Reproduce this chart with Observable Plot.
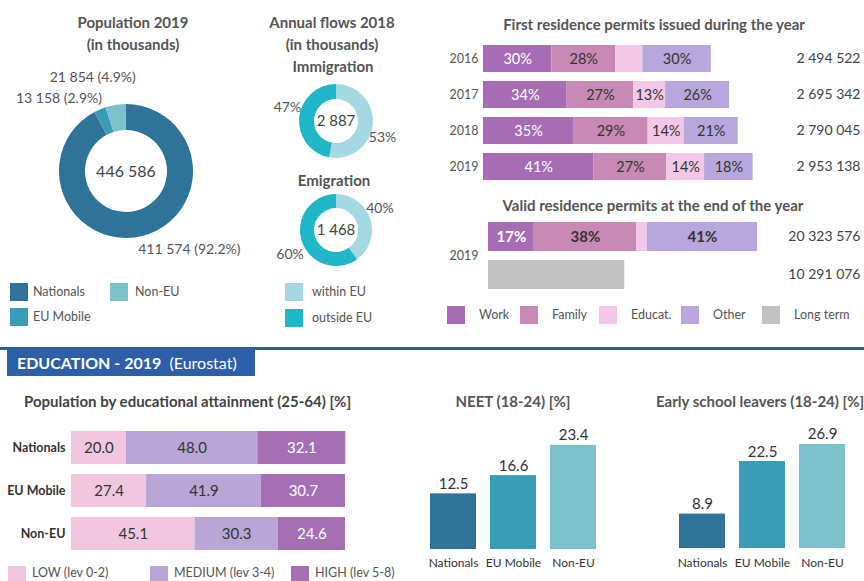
<!DOCTYPE html>
<html><head><meta charset="utf-8">
<script src="https://cdn.jsdelivr.net/npm/d3@7"></script>
<script src="https://cdn.jsdelivr.net/npm/@observablehq/plot@0.6"></script>
<style>
body{margin:0;background:#fff;font-family:Lato,"Open Sans",sans-serif;}
#root{position:relative;width:864px;height:581px;overflow:hidden;background:#fff;}
.box{position:absolute;}
.box svg{overflow:visible;}
.title{position:absolute;font-weight:bold;font-size:15px;color:#555;white-space:nowrap;line-height:20px;}
.ctr{transform:translateX(-50%);}
.lgsw{position:absolute;}
.lgtx{position:absolute;font-size:12.5px;color:#555;white-space:nowrap;line-height:16px;}
.bold-y [aria-label^="y-axis"] text{font-weight:bold;}
</style></head><body><div id="root"></div><script>
// ---------------- DATA ----------------
const popGroups = ["Nationals", "EU Mobile", "Non-EU"];
const popValues = [411574, 13158, 21854];
const popShares = [92.2, 2.9, 4.9];
const popTotal = 446586;

const flowGroups = ["within EU", "outside EU"];
const immigrationShares = [53, 47];
const immigrationTotal = 2887;
const emigrationShares = [40, 60];
const emigrationTotal = 1468;

const permitTypes = ["Work", "Family", "Educat.", "Other"];
const permitYears = ["2016", "2017", "2018", "2019"];
const permitTotals = [2494522, 2695342, 2790045, 2953138];
const permitWork = [30, 34, 35, 41];
const permitFamily = [28, 27, 29, 27];
const permitEducat = [12, 13, 14, 14];
const permitOther = [30, 26, 21, 18];
const permitEducatLabelled = [false, true, true, true];

const validYear = "2019";
const validKinds = ["Valid", "Long term"];
const validShares = [17, 38, 4, 41];
const validLabelled = [true, true, false, true];
const validTotal = 20323576;
const longTermTotal = 10291076;

const eduGroups = ["Nationals", "EU Mobile", "Non-EU"];
const eduLevels = ["LOW (lev 0-2)", "MEDIUM (lev 3-4)", "HIGH (lev 5-8)"];
const eduLow = [20.0, 27.4, 45.1];
const eduMedium = [48.0, 41.9, 30.3];
const eduHigh = [32.1, 30.7, 24.6];

const neetValues = [12.5, 16.6, 23.4];
const eslValues = [8.9, 22.5, 26.9];

// ---------------- STYLE ----------------
const popPalette = ["#2f7399", "#3a9cb7", "#7dc1cc"];
const flowPalette = ["#a4d9e4", "#1fb6c8"];
const permitPalette = ["#a66db5", "#c889b4", "#f3c8e6", "#b8a7dc", "#c2c2c2"];
const eduPalette = ["#f1c6df", "#b9a6d6", "#a66fb3"];
const FONT = "Lato, 'Open Sans', sans-serif";

const popColor = Plot.scale({color: {type: "ordinal", domain: popGroups, range: popPalette}});
const flowColor = Plot.scale({color: {type: "ordinal", domain: flowGroups, range: flowPalette}});
const permitColor = Plot.scale({color: {type: "ordinal", domain: [...permitTypes, "Long term"], range: permitPalette}});
const eduColor = Plot.scale({color: {type: "ordinal", domain: eduLevels, range: eduPalette}});

const fmt = v => d3.format(",")(v).replace(/,/g, "\u00a0");
const root = document.getElementById("root");

function place(node, left, top, cls = "box") {
  const d = document.createElement("div");
  d.className = cls;
  d.style.left = left + "px";
  d.style.top = top + "px";
  d.appendChild(node);
  root.appendChild(d);
  return d;
}
function title(text, x, y, centered = true, extra = {}) {
  const d = document.createElement("div");
  d.className = "title" + (centered ? " ctr" : "");
  d.textContent = text;
  d.style.left = x + "px";
  d.style.top = (y - 10) + "px";
  Object.assign(d.style, extra);
  root.appendChild(d);
}
function legendItem(color, text, sx, sy, tx, w = 18, h = 18, ty = null) {
  const s = document.createElement("div");
  s.className = "lgsw";
  Object.assign(s.style, {left: sx + "px", top: sy + "px", width: w + "px", height: h + "px", background: color});
  root.appendChild(s);
  const t = document.createElement("div");
  t.className = "lgtx";
  t.textContent = text;
  Object.assign(t.style, {left: tx + "px", top: ((ty ?? (sy + h / 2)) - 8) + "px"});
  root.appendChild(t);
}

// ---------------- DONUTS ----------------
function donutPlot({names, shares, color, total, width, height, cx, cy, outer, inner, labelOf, centerSize}) {
  const slices = names.map((name, i) => ({name, share: shares[i], label: labelOf(i)}));
  const render = () => {
    const g = d3.create("svg:g");
    const arcs = d3.pie().sort(null).value(d => d.share)(slices);
    const arc = d3.arc().innerRadius(inner).outerRadius(outer);
    g.append("g").attr("transform", `translate(${cx},${cy})`)
      .selectAll("path").data(arcs).join("path")
      .attr("d", arc).attr("fill", d => color.apply(d.data.name));
    g.append("text").attr("x", cx).attr("y", cy).attr("text-anchor", "middle")
      .attr("dy", "0.36em").attr("font-size", centerSize).attr("fill", "#444").text(fmt(total));
    const placed = [];
    for (const a of arcs) {
      const m = (a.startAngle + a.endAngle) / 2;
      let px = cx + outer * Math.sin(m);
      const py = cy - outer * Math.cos(m);
      const right = Math.sin(m) >= 0, upper = Math.cos(m) > 0;
      let y = upper ? py - 6 : py + 18;
      const side = right ? "r" : "l";
      let shifted = false;
      while (placed.some(p => p.side === side && Math.abs(p.y - y) < 15)) { y += upper ? -17 : 17; shifted = true; }
      if (shifted && !right) px += 18;
      placed.push({side, y});
      g.append("text").attr("x", right ? px - 4 : px + 2).attr("y", y)
        .attr("text-anchor", right ? "start" : "end").attr("font-size", 14).attr("fill", "#555")
        .text(a.data.label);
    }
    return g.node();
  };
  return Plot.plot({
    width, height, margin: 0, x: {axis: null}, y: {axis: null},
    style: {fontFamily: FONT, background: "transparent", overflow: "visible"},
    marks: [render]
  });
}

place(donutPlot({
  names: popGroups, shares: popShares, color: popColor, total: popTotal,
  width: 260, height: 222, cx: 126, cy: 111, outer: 67, inner: 41, centerSize: 16,
  labelOf: i => `${fmt(popValues[i])} (${popShares[i].toFixed(1)}%)`
}), 0, 60);

place(donutPlot({
  names: flowGroups, shares: immigrationShares, color: flowColor, total: immigrationTotal,
  width: 180, height: 100, cx: 76, cy: 51, outer: 37, inner: 22, centerSize: 15,
  labelOf: i => immigrationShares[i] + "%"
}), 260, 70);

place(donutPlot({
  names: flowGroups, shares: emigrationShares, color: flowColor, total: emigrationTotal,
  width: 180, height: 100, cx: 76, cy: 50, outer: 36, inner: 22, centerSize: 15,
  labelOf: i => emigrationShares[i] + "%"
}), 260, 180);

title("Population 2019", 133, 22);
title("(in thousands)", 133, 44);
title("Annual flows 2018", 332, 22);
title("(in thousands)", 332, 44);
title("Immigration", 333, 66);
title("Emigration", 334, 180);

legendItem(popColor.apply("Nationals"), "Nationals", 10, 283, 33);
legendItem(popColor.apply("Non-EU"), "Non-EU", 110, 283, 135);
legendItem(popColor.apply("EU Mobile"), "EU Mobile", 10, 308, 33);
legendItem(flowColor.apply("within EU"), "within EU", 285, 283, 312);
legendItem(flowColor.apply("outside EU"), "outside EU", 285, 309, 312);

// ---------------- FIRST PERMITS ----------------
const permitRows = permitYears.flatMap((year, i) => {
  const shares = [permitWork[i], permitFamily[i], permitEducat[i], permitOther[i]];
  const sum = d3.sum(shares);
  return permitTypes.map((type, j) => ({
    year, type, share: shares[j], value: permitTotals[i] * shares[j] / sum,
    labelled: type !== "Educat." || permitEducatLabelled[i]
  }));
});
const k1 = 9.13e-5;
place(Plot.plot({
  width: 424, height: 153, marginLeft: 43, marginRight: 4, marginTop: 0, marginBottom: 0,
  x: {axis: null, domain: [0, 3.5e6], range: [43, 43 + 3.5e6 * k1]},
  y: {domain: permitYears, padding: 0.25, axis: "left", tickSize: 0, tickPadding: 5, label: null},
  color: {domain: [...permitTypes, "Long term"], range: permitPalette},
  style: {fontFamily: FONT, fontSize: "12.5px", color: "#555", background: "transparent", overflow: "visible"},
  marks: [
    Plot.barX(permitRows, Plot.stackX({x: "value", y: "year", fill: "type"})),
    Plot.text(permitRows, Plot.stackX({x: "value", y: "year", z: "type",
      text: d => d.type === "Work" ? d.share + "%" : "", fill: "white", fontSize: 14.5})),
    Plot.text(permitRows, Plot.stackX({x: "value", y: "year", z: "type",
      text: d => d.type !== "Work" && d.labelled ? d.share + "%" : "", fill: "#333", fontSize: 14.5})),
    Plot.text(permitYears, {y: d => d, text: (d, i) => fmt(permitTotals[i]), frameAnchor: "right",
      textAnchor: "end", fontSize: 14, fill: "#444"})
  ]
}), 440, 36);
title("First residence permits issued during the year", 654, 24);

// ---------------- VALID PERMITS ----------------
const validRows = [
  ...permitTypes.map((type, j) => ({year: validYear, kind: "Valid", type, share: validShares[j],
    value: validTotal * validShares[j] / d3.sum(validShares), labelled: validLabelled[j]})),
  {year: validYear, kind: "Long term", type: "Long term", share: 100, value: longTermTotal, labelled: false}
];
const validTotals = [{kind: "Valid", total: validTotal}, {kind: "Long term", total: longTermTotal}];
const k2 = 1.324e-5;
place(Plot.plot({
  width: 424, height: 87, marginLeft: 48, marginRight: 4, marginTop: 0, marginBottom: 0,
  facet: {data: validRows, y: "year"},
  fy: {domain: [validYear], padding: 0, axis: "left", tickSize: 0, tickPadding: 10, label: null},
  x: {axis: null, domain: [0, 2.5e7], range: [48, 48 + 2.5e7 * k2]},
  y: {domain: validKinds, padding: 0.24, axis: null},
  color: {domain: [...permitTypes, "Long term"], range: permitPalette},
  style: {fontFamily: FONT, fontSize: "12.5px", color: "#555", background: "transparent", overflow: "visible"},
  marks: [
    Plot.barX(validRows, Plot.stackX({x: "value", y: "kind", fill: "type"})),
    Plot.text(validRows, Plot.stackX({x: "value", y: "kind", z: "type",
      text: d => d.type === "Work" && d.labelled ? d.share + "%" : "", fill: "white", fontSize: 15, fontWeight: "bold"})),
    Plot.text(validRows, Plot.stackX({x: "value", y: "kind", z: "type",
      text: d => d.type !== "Work" && d.labelled ? d.share + "%" : "", fill: "#333", fontSize: 15, fontWeight: "bold"})),
    Plot.text(validTotals, {y: "kind", text: d => fmt(d.total), frameAnchor: "right",
      textAnchor: "end", fontSize: 14, fill: "#444"})
  ]
}), 440, 212);
title("Valid residence permits at the end of the year", 653, 205);

[...permitTypes, "Long term"].forEach((t, i) => {
  const sx = [447, 520, 599, 681, 762][i];
  legendItem(permitColor.apply(t), t, sx, 306, sx + 32, 18, 18);
});

// ---------------- EDUCATION HEADER ----------------
const line = document.createElement("div");
Object.assign(line.style, {position: "absolute", left: "0px", top: "347px", width: "864px", height: "3px", background: "#2c5fa8"});
root.appendChild(line);
const hdr = document.createElement("div");
Object.assign(hdr.style, {position: "absolute", left: "7px", top: "347px", width: "248px", height: "29px",
  background: "#2c5fa8", color: "#fff", fontSize: "16px", lineHeight: "31px", paddingLeft: "10px",
  boxSizing: "border-box", whiteSpace: "nowrap"});
hdr.innerHTML = '<b>EDUCATION - 2019</b>&nbsp; (Eurostat)';
root.appendChild(hdr);

// ---------------- EDUCATIONAL ATTAINMENT ----------------
const eduRows = eduGroups.flatMap((group, i) =>
  [eduLow[i], eduMedium[i], eduHigh[i]].map((value, j) => ({group, level: eduLevels[j], value})));
const eduPlot = Plot.plot({
  width: 420, height: 141, marginLeft: 71, marginRight: 75, marginTop: 0, marginBottom: 0,
  x: {axis: null, domain: [0, 100]},
  y: {domain: eduGroups, padding: 0.24, axis: "left", tickSize: 0, tickPadding: 6, label: null},
  color: {domain: eduLevels, range: eduPalette},
  style: {fontFamily: FONT, fontSize: "12.5px", color: "#333", background: "transparent", overflow: "visible"},
  marks: [
    Plot.barX(eduRows, Plot.stackX({x: "value", y: "group", fill: "level"})),
    Plot.text(eduRows, Plot.stackX({x: "value", y: "group", z: "level",
      text: d => d.level !== eduLevels[2] ? d.value.toFixed(1) : "", fill: "#333", fontSize: 15})),
    Plot.text(eduRows, Plot.stackX({x: "value", y: "group", z: "level",
      text: d => d.level === eduLevels[2] ? d.value.toFixed(1) : "", fill: "white", fontSize: 15}))
  ]
});
place(eduPlot, 0, 420).classList.add("bold-y");
title("Population by educational attainment (25-64) [%]", 24, 401, false, {color: "#444"});
eduLevels.forEach((l, i) => {
  const sx = [8, 150, 291][i];
  legendItem(eduColor.apply(l), l, sx, 566, sx + 24, 18, 20, 573);
});

// ---------------- NEET / ESL ----------------
function columnPlot(values, xRange, yRange, width) {
  const rows = eduGroups.map((group, i) => ({group, value: values[i]}));
  return Plot.plot({
    width, height: 166, marginLeft: 0, marginRight: 0, marginTop: 0, marginBottom: 32,
    x: {domain: eduGroups, range: xRange, padding: 0.23, axis: "bottom", tickSize: 0, tickPadding: 9, label: null},
    y: {domain: [0, 30], range: yRange, axis: null},
    color: {domain: popGroups, range: popPalette},
    style: {fontFamily: FONT, fontSize: "12px", color: "#333", background: "transparent", overflow: "visible"},
    marks: [
      Plot.barY(rows, {x: "group", y: "value", fill: "group"}),
      Plot.text(rows, {x: "group", y: "value", text: d => d.value.toFixed(1), lineAnchor: "bottom",
        dy: -5, fontSize: 15, fill: "#333"})
    ]
  });
}
place(columnPlot(neetValues, [4.5, 201.5], [134, 0.5], 210), 410, 415);
place(columnPlot(eslValues, [3.5, 200], [133, 17], 204), 660, 415);
title("NEET (18-24) [%]", 513, 401);
title("Early school leavers (18-24) [%]", 656, 401, false);
</script></body></html>
